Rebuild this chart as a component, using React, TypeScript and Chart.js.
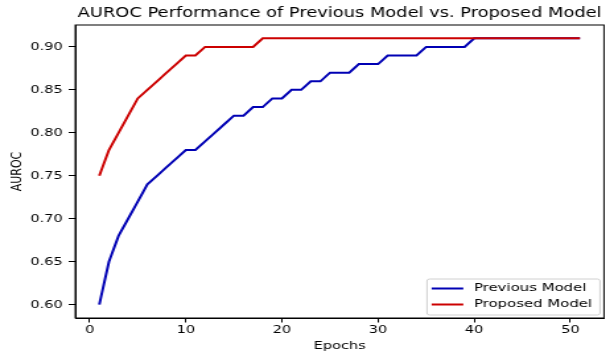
import React, { useEffect, useRef } from 'react';
import { Chart, registerables } from 'chart.js';

Chart.register(...registerables);

const chartTitle = 'AUROC Performance of Previous Model vs. Proposed Model';
const xAxisTitle = 'Epochs';
const yAxisTitle = 'AUROC';

const epochs = [
  1, 2, 3, 4, 5, 6, 7, 8, 9, 10,
  11, 12, 13, 14, 15, 16, 17, 18, 19, 20,
  21, 22, 23, 24, 25, 26, 27, 28, 29, 30,
  31, 32, 33, 34, 35, 36, 37, 38, 39, 40,
  41, 42, 43, 44, 45, 46, 47, 48, 49, 50, 51,
];

const previousModel = [
  0.60, 0.65, 0.68, 0.70, 0.72, 0.74, 0.75, 0.76, 0.77, 0.78,
  0.78, 0.79, 0.80, 0.81, 0.82, 0.82, 0.83, 0.83, 0.84, 0.84,
  0.85, 0.85, 0.86, 0.86, 0.87, 0.87, 0.87, 0.88, 0.88, 0.88,
  0.89, 0.89, 0.89, 0.89, 0.90, 0.90, 0.90, 0.90, 0.90, 0.91,
  0.91, 0.91, 0.91, 0.91, 0.91, 0.91, 0.91, 0.91, 0.91, 0.91, 0.91,
];

const proposedModel = [
  0.75, 0.78, 0.80, 0.82, 0.84, 0.85, 0.86, 0.87, 0.88, 0.89,
  0.89, 0.90, 0.90, 0.90, 0.90, 0.90, 0.90, 0.91, 0.91, 0.91,
  0.91, 0.91, 0.91, 0.91, 0.91, 0.91, 0.91, 0.91, 0.91, 0.91,
  0.91, 0.91, 0.91, 0.91, 0.91, 0.91, 0.91, 0.91, 0.91, 0.91,
  0.91, 0.91, 0.91, 0.91, 0.91, 0.91, 0.91, 0.91, 0.91, 0.91, 0.91,
];

const seriesLabels = ['Previous Model', 'Proposed Model'];
const seriesColors = ['#0000b4', '#cc0000'];

const xTicks = [0, 10, 20, 30, 40, 50];
const yTicks = [0.60, 0.65, 0.70, 0.75, 0.80, 0.85, 0.90];

const FONT = '"DejaVu Sans", "Noto Sans", sans-serif';

const framePlugin = {
  id: 'frameBox',
  afterDatasetsDraw(chart: any) {
    const { ctx, chartArea } = chart;
    ctx.save();
    ctx.strokeStyle = '#000';
    ctx.lineWidth = 1;
    ctx.strokeRect(chartArea.left, chartArea.top, chartArea.right - chartArea.left, chartArea.bottom - chartArea.top);
    ctx.restore();
  },
};

const insideLegendPlugin = {
  id: 'insideLegend',
  afterDraw(chart: any) {
    const { ctx, chartArea } = chart;
    const items = chart.data.datasets.map((d: any) => ({ label: d.label, color: d.borderColor }));
    ctx.save();
    ctx.font = `11.3px ${FONT}`;
    const maxW = Math.max(...items.map((i: any) => ctx.measureText(i.label).width));
    const padL = 3.5, handle = 24, gap = 8, padR = 6;
    const boxW = padL + handle + gap + maxW + padR;
    const boxH = 36;
    const right = chartArea.right - 3;
    const bottom = chartArea.bottom - 3;
    const left = right - boxW;
    const top = bottom - boxH;
    ctx.beginPath();
    if ((ctx as any).roundRect) (ctx as any).roundRect(left, top, boxW, boxH, 2);
    else ctx.rect(left, top, boxW, boxH);
    ctx.fillStyle = 'rgba(255,255,255,0.85)';
    ctx.fill();
    ctx.strokeStyle = '#d0d0d0';
    ctx.lineWidth = 1;
    ctx.stroke();
    items.forEach((it: any, i: number) => {
      const y = top + 9.5 + i * 16;
      ctx.beginPath();
      ctx.moveTo(left + padL, y);
      ctx.lineTo(left + padL + handle, y);
      ctx.strokeStyle = it.color;
      ctx.lineWidth = 2;
      ctx.stroke();
      ctx.fillStyle = '#000';
      ctx.textAlign = 'left';
      ctx.textBaseline = 'middle';
      ctx.fillText(it.label, left + padL + handle + gap, y);
    });
    ctx.restore();
  },
};

export default function App() {
  const canvasRef = useRef<HTMLCanvasElement | null>(null);

  useEffect(() => {
    const canvas = canvasRef.current;
    if (!canvas) return;
    const chart = new Chart(canvas, {
      type: 'line',
      data: {
        datasets: [
          {
            label: seriesLabels[0],
            data: epochs.map((e, i) => ({ x: e, y: previousModel[i] })),
            borderColor: seriesColors[0],
            backgroundColor: seriesColors[0],
            borderWidth: 2,
            pointRadius: 0,
            tension: 0,
            order: 1,
          },
          {
            label: seriesLabels[1],
            data: epochs.map((e, i) => ({ x: e, y: proposedModel[i] })),
            borderColor: seriesColors[1],
            backgroundColor: seriesColors[1],
            borderWidth: 2,
            pointRadius: 0,
            tension: 0,
            order: 0,
          },
        ],
      },
      options: {
        animation: false,
        responsive: false,
        devicePixelRatio: 1,
        layout: { padding: { left: 0, right: 7.6, top: 0, bottom: 0 } },
        plugins: {
          legend: { display: false },
          tooltip: { enabled: false },
          title: {
            display: true,
            text: chartTitle,
            fullSize: false,
            color: '#000',
            font: { family: FONT, size: 13.5, weight: 'normal' },
            padding: { top: 5.2, bottom: 3.6 },
          },
        },
        scales: {
          x: {
            type: 'linear',
            min: -1.5,
            max: 53.5,
            afterBuildTicks: (scale: any) => {
              scale.ticks = xTicks.map((v) => ({ value: v }));
            },
            afterFit: (scale: any) => {
              scale.height = 42;
            },
            ticks: {
              color: '#000',
              font: { family: FONT, size: 11 },
              padding: 1.4,
              maxRotation: 0,
              autoSkip: false,
            },
            grid: { drawOnChartArea: false, drawTicks: true, tickLength: 4.5, tickColor: '#000' },
            border: { color: '#000', width: 1 },
            title: {
              display: true,
              text: xAxisTitle,
              color: '#000',
              font: { family: FONT, size: 11 },
              padding: { top: 0, bottom: 7.5 },
            },
          },
          y: {
            type: 'linear',
            min: 0.5845,
            max: 0.9255,
            afterBuildTicks: (scale: any) => {
              scale.ticks = yTicks.map((v) => ({ value: v }));
            },
            afterFit: (scale: any) => {
              scale.width = 57;
            },
            ticks: {
              color: '#000',
              font: { family: FONT, size: 11 },
              padding: 4.5,
              autoSkip: false,
              callback: (v: any) => Number(v).toFixed(2),
            },
            grid: { drawOnChartArea: false, drawTicks: true, tickLength: 5, tickColor: '#000' },
            border: { color: '#000', width: 1 },
            title: {
              display: true,
              text: yAxisTitle,
              color: '#000',
              font: { family: FONT, size: 11 },
              padding: { top: 6.7, bottom: 0 },
            },
          },
        },
      } as any,
      plugins: [framePlugin, insideLegendPlugin],
    });
    return () => {
      chart.destroy();
    };
  }, []);

  return (
    <div style={{ position: 'fixed', left: 0, top: 0, width: '614px', height: '360px', background: '#fff' }}>
      <canvas
        ref={canvasRef}
        width={465}
        height={360}
        style={{ width: '614px', height: '360px', display: 'block' }}
      />
    </div>
  );
}
